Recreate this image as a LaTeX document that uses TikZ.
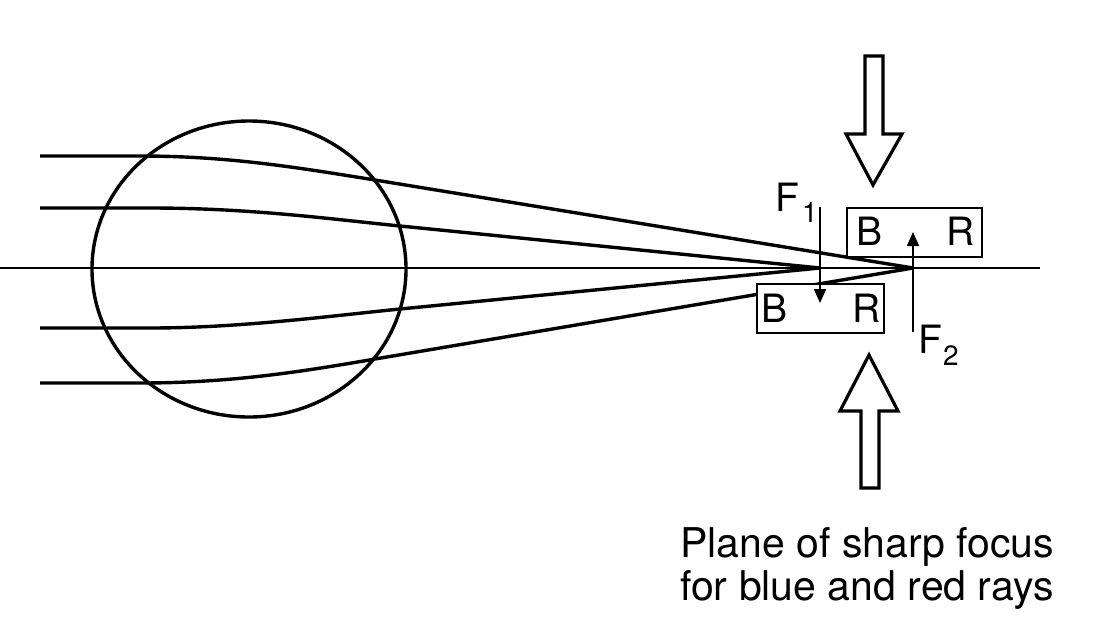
\documentclass[tikz,border=0pt]{standalone}
\usepackage{fontspec}
\setmainfont{TeX Gyre Heros}
\usetikzlibrary{arrows.meta}
\tikzset{
  ray/.style={line width=3.4pt,line join=round},
  axisline/.style={line width=1.7pt},
  lens/.style={line width=3.4pt},
  planebox/.style={draw,fill=white,line width=1.7pt},
  focusarrow/.style={line width=1.7pt,-{Triangle[length=14pt,width=12pt]}},
  hollow/.style={draw,fill=white,line width=3.2pt,line join=miter},
  lbl/.style={font=\fontsize{39}{39}\selectfont,inner sep=0pt,anchor=base west},
  sub/.style={font=\fontsize{28}{28}\selectfont,inner sep=0pt,anchor=base west},
  caption/.style={font=\fontsize{41}{43}\selectfont,inner sep=0pt,anchor=base west}
}
\begin{document}
\begin{tikzpicture}[x=1pt,y=-1pt]
\useasboundingbox (0,0) rectangle (1102,619);
% axis
\coordinate (axL) at (0,268);
\coordinate (axR) at (1040,268);
\draw[axisline] (axL) -- (axR);
% eye / lens
\draw[lens] (249,269) ellipse [x radius=157, y radius=148];
% focus points
\coordinate (f1) at (820,268);
\coordinate (f2) at (913,268);
% rays
\draw[ray] (40,156) -- (140,156) .. controls (230,156) and (300,168) .. (375,180) -- (f2);
\draw[ray] (40,208) -- (150,208) .. controls (250,208) and (330,219) .. (400,226) -- (f1);
\draw[ray] (40,328) -- (150,328) .. controls (240,328) and (330,316) .. (400,309) -- (f1);
\draw[ray] (40,383) -- (140,383) .. controls (230,383) and (300,372) .. (375,359) -- (f2);
% boxes
\draw[planebox] (847,208) rectangle (982,257);
\draw[planebox] (757,284) rectangle (884,333);
\node[lbl] (b1) at (856,245) {B};
\node[lbl] (r1) at (946,245) {R};
\node[lbl] (b2) at (761,322) {B};
\node[lbl] (r2) at (852,322) {R};
% focus arrows
\coordinate (f1top) at (820,207);
\coordinate (f1tip) at (820,303);
\coordinate (f2bot) at (913,332);
\coordinate (f2tip) at (913,232);
\draw[focusarrow] (f1top) -- (f1tip);
\draw[focusarrow] (f2bot) -- (f2tip);
\node[lbl] (F1) at (775,211) {F};
\node[sub] (F1s) at (802,222) {1};
\node[lbl] (F2) at (918,353) {F};
\node[sub] (F2s) at (943,365) {2};
% hollow arrows
\draw[hollow] (865,56) -- (883,56) -- (883,134) -- (902,134) -- (873,185) -- (846,134) -- (865,134) -- cycle;
\draw[hollow] (869,355) -- (898,411) -- (879,411) -- (879,488) -- (861,488) -- (861,411) -- (840,411) -- cycle;
% caption
\node[caption] (cap1) at (680,557) {Plane of sharp focus};
\node[caption] (cap2) at (680,600) {for blue and red rays};
\end{tikzpicture}
\end{document}
